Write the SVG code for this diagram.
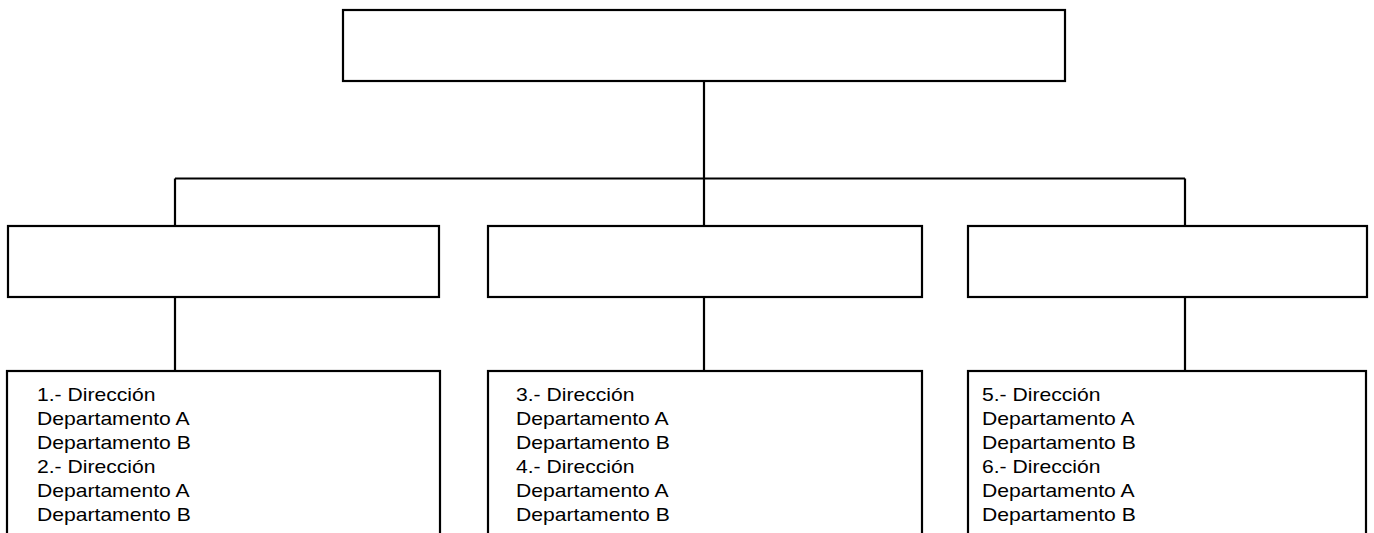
<svg xmlns="http://www.w3.org/2000/svg" width="1374" height="533" viewBox="0 0 1374 533">
<style>
.box{fill:#fff;stroke:#000;stroke-width:2.2}
.ln{fill:none;stroke:#000;stroke-width:2.2}
.t{font-family:"Liberation Sans",Arial,sans-serif;font-size:18.7px;fill:#000}
</style>
<rect width="1374" height="533" fill="#fff"/>
<g id="connectors">
<path class="ln" d="M704,81 V226 M175,178.5 H1185 M175,178.5 V229 M1185,178.5 V229 M175,297 V371 M704,297 V371 M1185,297 V371"/>
</g>
<g id="top"><rect class="box" x="343" y="10" width="722" height="71"/></g>
<g id="mid1"><rect class="box" x="8" y="226" width="431" height="71"/></g>
<g id="mid2"><rect class="box" x="488" y="226" width="434" height="71"/></g>
<g id="mid3"><rect class="box" x="968" y="226" width="399" height="71"/></g>
<g id="bot1">
<rect class="box" x="7" y="371" width="433" height="180"/>
<g transform="translate(37,0) scale(1.13,1)">
<text class="t" x="0" y="401">1.- Dirección</text>
<text class="t" x="0" y="425">Departamento A</text>
<text class="t" x="0" y="449">Departamento B</text>
<text class="t" x="0" y="473">2.- Dirección</text>
<text class="t" x="0" y="497">Departamento A</text>
<text class="t" x="0" y="521">Departamento B</text>
</g>
</g>
<g id="bot2">
<rect class="box" x="488" y="371" width="434" height="180"/>
<g transform="translate(516,0) scale(1.13,1)">
<text class="t" x="0" y="401">3.- Dirección</text>
<text class="t" x="0" y="425">Departamento A</text>
<text class="t" x="0" y="449">Departamento B</text>
<text class="t" x="0" y="473">4.- Dirección</text>
<text class="t" x="0" y="497">Departamento A</text>
<text class="t" x="0" y="521">Departamento B</text>
</g>
</g>
<g id="bot3">
<rect class="box" x="968" y="371" width="398" height="180"/>
<g transform="translate(982,0) scale(1.13,1)">
<text class="t" x="0" y="401">5.- Dirección</text>
<text class="t" x="0" y="425">Departamento A</text>
<text class="t" x="0" y="449">Departamento B</text>
<text class="t" x="0" y="473">6.- Dirección</text>
<text class="t" x="0" y="497">Departamento A</text>
<text class="t" x="0" y="521">Departamento B</text>
</g>
</g>
</svg>
